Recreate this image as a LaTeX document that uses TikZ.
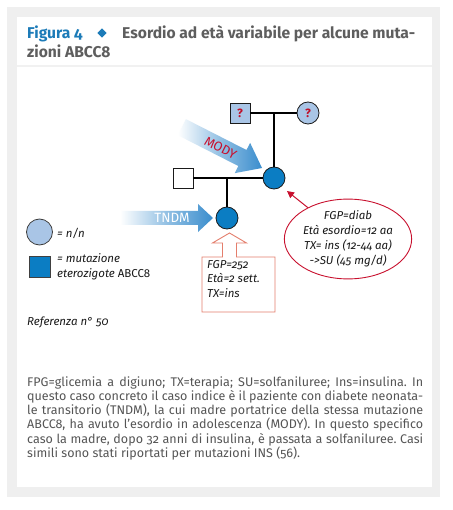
\documentclass[tikz,border=0pt]{standalone}
\usepackage{fontspec}
\setmainfont{Fira Sans}[Numbers=OldStyle]
\usetikzlibrary{shapes.geometric,arrows.meta}
\definecolor{panelgray}{HTML}{EFEFEF}
\definecolor{sepgray}{HTML}{F1F1F1}
\definecolor{figblue}{HTML}{1C7BB8}
\definecolor{titlegray}{HTML}{5E5E5E}
\definecolor{capgray}{HTML}{555555}
\definecolor{mutblue}{HTML}{0B7DC3}
\definecolor{lightblue}{HTML}{A9C5E6}
\definecolor{qred}{HTML}{C0102A}
\definecolor{calred}{HTML}{C8102E}
\definecolor{boxred}{HTML}{E47E6C}
\definecolor{arrowblue}{HTML}{3A8DCD}
\definecolor{outl}{HTML}{1A1A1A}
\newlength\mylen
\tikzset{
  pedline/.style={line width=1.6pt, black},
  sqbox/.style={rectangle, draw=outl, line width=0.8pt, minimum size=20pt, inner sep=0pt},
  circ/.style={circle, draw=outl, line width=0.8pt, minimum size=22pt, inner sep=0pt},
  qmark/.style={text=qred, font=\bfseries\fontsize{12}{12}\selectfont},
  lab/.style={font=\itshape\fontsize{\labsize}{15}\selectfont, text=black!90},
  captxt/.style={anchor=base west, inner sep=0pt, text=capgray, font=\frenchspacing\fontsize{\capsize}{14}\selectfont},
  titletxt/.style={anchor=base west, inner sep=0pt, font=\bfseries\fontsize{\titsize}{18}\selectfont},
}
\begin{document}
\settowidth\mylen{\fontsize{10}{12}\selectfont simili sono stati riportati per mutazioni INS (56).}
\pgfmathsetmacro\capsize{10*273/\mylen}
\settowidth\mylen{\bfseries\fontsize{10}{12}\selectfont Esordio ad età variabile per alcune muta-}
\pgfmathsetmacro\titsize{10*293/\mylen}
\settowidth\mylen{\itshape\fontsize{10}{12}\selectfont Età esordio=12 aa}
\pgfmathsetmacro\labsize{10*90/\mylen}
\begin{tikzpicture}[x=1pt,y=-1pt]
\useasboundingbox (0,0) rectangle (452,510);
% panels
\fill[panelgray] (7,7) rectangle (440,497);
\fill[white] (17,17) rectangle (432,487);
\draw[sepgray, line width=2pt] (17,66.5) -- (432,66.5);
% title
\node[titletxt, text=figblue] (fig) at (27,38.5) {Figura 4};
\node[diamond, fill=figblue, minimum size=9.5pt, inner sep=0pt] (dia) at (102,33) {};
\node[titletxt, text=titlegray] (t1) at (122,38.5) {Esordio ad età variabile per alcune muta-};
\node[titletxt, text=titlegray] (t2) at (27,57.5) {zioni ABCC8};
% TNDM arrow
\shade[left color=white, right color=arrowblue, middle color=arrowblue!55]
  (120,211) -- (198,211) -- (198,204) -- (213,218) -- (198,232) -- (198,225) -- (120,225) -- cycle;
\node[text=white, font=\fontsize{13.5}{13.5}\selectfont, inner sep=0pt] (tndm) at (172,218) {TNDM};
% MODY arrow
\begin{scope}[shift={(262,168)}, rotate=-27]
  \shade[left color=white, right color=arrowblue, middle color=arrowblue!55]
    (-90,-9) -- (-22,-9) -- (-22,-17) -- (0,0) -- (-22,17) -- (-22,9) -- (-90,9) -- cycle;
  \node[text=calred, font=\fontsize{13}{13}\selectfont, inner sep=0pt, rotate=-27] (mody) at (-46,1) {MODY};
\end{scope}
% pedigree
\node[sqbox, fill=lightblue] (gf) at (240,113) {};
\node[qmark] at (gf) {?};
\node[circ, fill=lightblue] (gm) at (308,113) {};
\node[qmark] at (gm) {?};
\node[sqbox, fill=white] (fa) at (183,178) {};
\node[circ, fill=mutblue] (mo) at (274,178) {};
\node[circ, fill=mutblue] (ch) at (227,218) {};
\coordinate (c1) at (274,113);
\coordinate (c2) at (227,178);
\draw[pedline] (gf.east) -- (gm.west);
\draw[pedline] (c1) -- (mo.north);
\draw[pedline] (fa.east) -- (mo.west);
\draw[pedline] (c2) -- (ch.north);
% ellipse callout
\node[ellipse, draw=calred, line width=0.9pt, fill=white, minimum width=110pt, minimum height=77pt,
      inner sep=0pt, align=center, lab] (ell) at (348,239)
  {FGP=diab\\Età esordio=12 aa\\TX= ins (12-44 aa)\\->SU (45 mg/d)};
\coordinate (ptip) at (287,191);
\draw[calred, line width=1pt, -{Triangle[length=7pt,width=7pt]}] (ell.142) -- (ptip);
% box callout
\coordinate (btip) at (229.5,233);
\draw[boxred, line width=0.9pt, fill=white]
  (202,257) -- (222.5,257) -- (222.5,243) -- (212.5,243) -- (btip) -- (246.5,243) -- (236.5,243)
  -- (236.5,257) -- (275,257) -- (275,312) -- (202,312) -- cycle;
\node[lab, anchor=north west, align=left, inner sep=0pt, font=\itshape\fontsize{\labsize}{14.5}\selectfont] (boxt) at (207,260)
  {FGP=252\\Età=2 sett.\\TX=ins};
% legend
\node[circ, fill=lightblue, minimum size=26pt, draw=black!75] (lc) at (39.5,232) {};
\node[lab, anchor=west, inner sep=0pt] (lct) at (57,233) {= n/n};
\node[sqbox, fill=mutblue, minimum size=21pt, draw=black!75] (ls) at (39.5,267) {};
\node[lab, anchor=north west, align=left, inner sep=0pt] (lst) at (57,253)
  {= mutazione\\eterozigote \upshape ABCC8};
\node[lab, anchor=base west, inner sep=0pt] (ref) at (27,325) {Referenza n° 50};
% caption
\node[captxt] (l1) at (27,386) {\makebox[396pt][s]{FPG=glicemia a digiuno; TX=terapia; SU=solfaniluree; Ins=insulina. In}};
\node[captxt] (l2) at (27,400.3) {\makebox[396pt][s]{questo caso concreto il caso indice è il paziente con diabete neonata-}};
\node[captxt] (l3) at (27,414.6) {\makebox[396pt][s]{le transitorio (TNDM), la cui madre portatrice della stessa mutazione}};
\node[captxt] (l4) at (27,428.9) {\makebox[396pt][s]{ABCC8, ha avuto l'esordio in adolescenza (MODY). In questo specifico}};
\node[captxt] (l5) at (27,443.2) {\makebox[396pt][s]{caso la madre, dopo 32 anni di insulina, è passata a solfaniluree. Casi}};
\node[captxt] (l6) at (27,457.5) {simili sono stati riportati per mutazioni INS (56).};
\end{tikzpicture}
\end{document}
